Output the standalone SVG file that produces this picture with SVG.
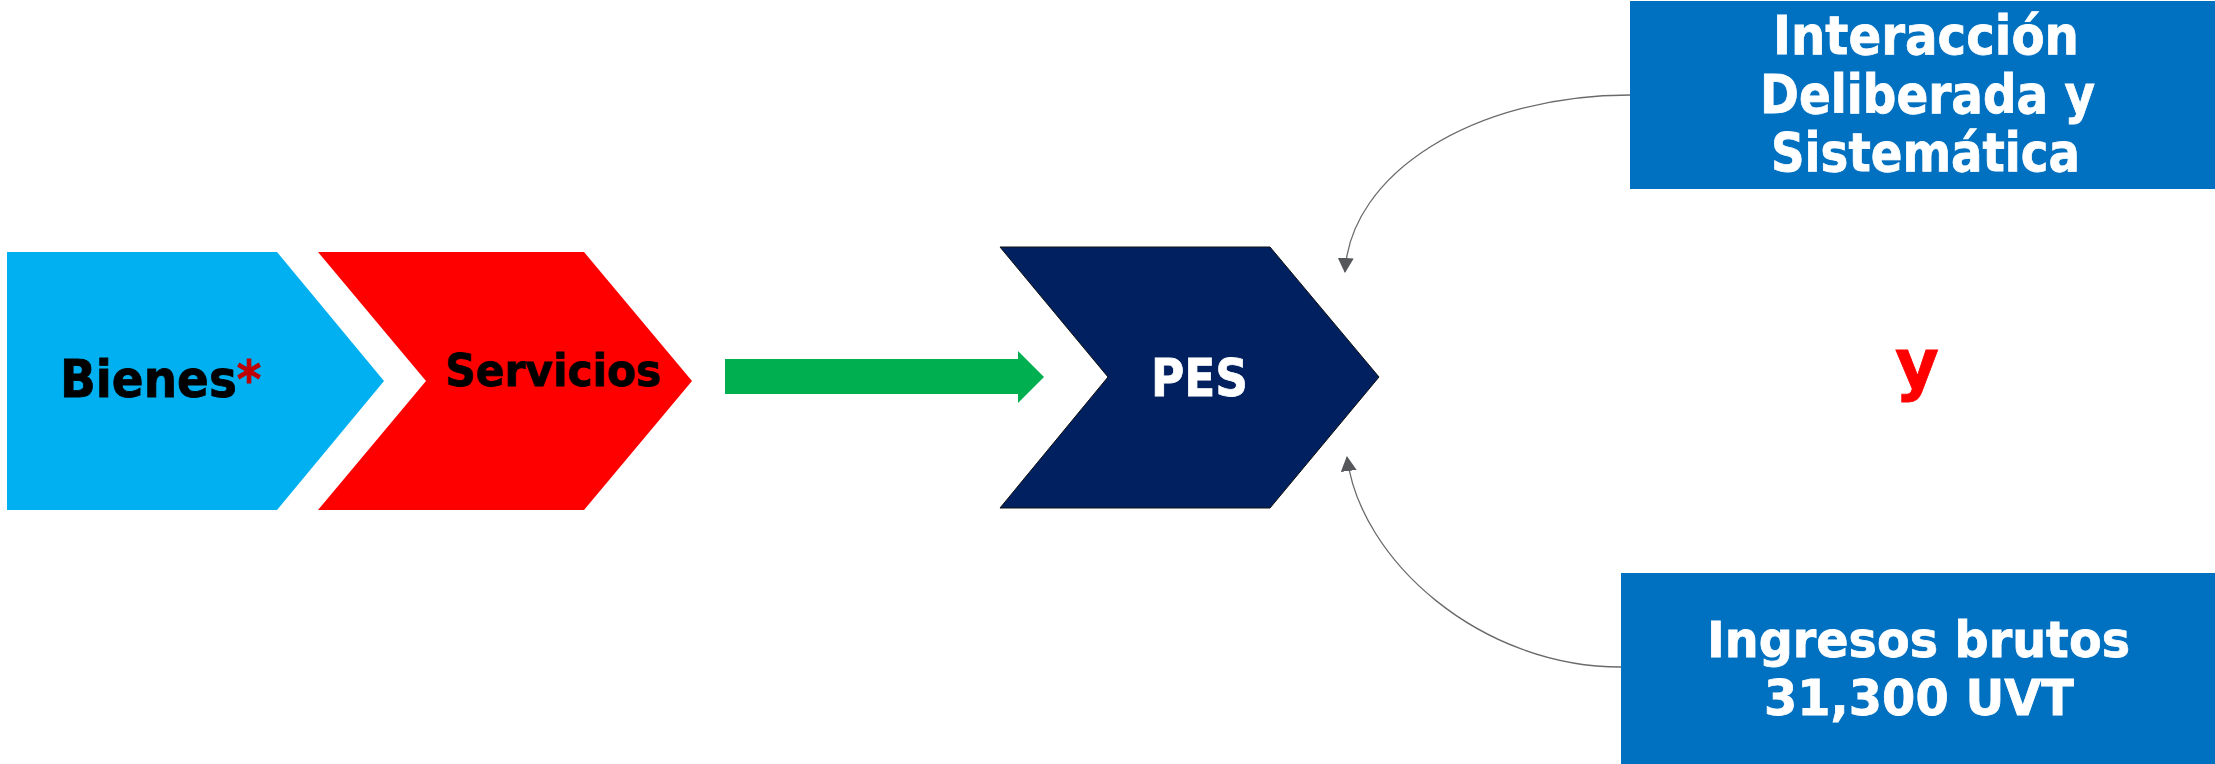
<svg xmlns="http://www.w3.org/2000/svg" width="2215" height="764" viewBox="0 0 2215 764">
<style>
text{font-family:"DejaVu Sans","Verdana",sans-serif;font-weight:bold}
.w{fill:#ffffff;stroke:#ffffff;stroke-width:0.8}
.k{fill:#000000;stroke:#000000;stroke-width:0.8}
.conn{fill:none;stroke:#6a6a6a;stroke-width:1.3}
.box{fill:#0070C0}
</style>
<defs>
<marker id="ah" markerWidth="16" markerHeight="16" refX="14" refY="8" orient="auto" markerUnits="userSpaceOnUse">
<path d="M0,0 L15,8 L0,16 z" fill="#55575b"/>
</marker>
</defs>
<rect width="2215" height="764" fill="#ffffff"/>
<g id="bienes">
<polygon points="7,252 277,252 384,381 277,510 7,510" fill="#00B0F0"/>
<text transform="matrix(0.92 0 0 1 60 397)" font-size="51" class="k">Bienes<tspan fill="#C00000" stroke="#C00000">*</tspan></text>
</g>
<g id="servicios">
<polygon points="318,252 584,252 692,381 584,510 318,510 426,381" fill="#FF0000"/>
<text x="445" y="386" font-size="44" class="k" textLength="216" lengthAdjust="spacingAndGlyphs">Servicios</text>
</g>
<g id="flecha">
<polygon points="725,359 1018,359 1018,351 1044,377 1018,403 1018,394 725,394" fill="#00B050"/>
</g>
<g id="pes">
<polygon points="1000,247 1270,247 1379,377 1270,508 1000,508 1108,377" fill="#002060" stroke="#111111" stroke-width="1"/>
<text x="1151" y="396" font-size="51" class="w" textLength="97" lengthAdjust="spacingAndGlyphs">PES</text>
</g>
<g id="interaccion">
<rect x="1630" y="1" width="585" height="188" class="box"/>
<text x="1773" y="54" font-size="53" class="w" textLength="306" lengthAdjust="spacingAndGlyphs">Interacción</text>
<text x="1760" y="113" font-size="53" class="w" textLength="335" lengthAdjust="spacingAndGlyphs">Deliberada y</text>
<text x="1771" y="171" font-size="53" class="w" textLength="309" lengthAdjust="spacingAndGlyphs">Sistemática</text>
</g>
<g id="ingresos">
<rect x="1621" y="573" width="594" height="191" class="box"/>
<text x="1707" y="657" font-size="50" class="w" textLength="423" lengthAdjust="spacingAndGlyphs">Ingresos brutos</text>
<text x="1764" y="715" font-size="50" class="w" textLength="310" lengthAdjust="spacingAndGlyphs">31,300 UVT</text>
</g>
<g id="conector-y">
<text x="1895" y="387" font-size="68" fill="#FF0000" stroke="#FF0000" stroke-width="0.8" textLength="44" lengthAdjust="spacingAndGlyphs">y</text>
</g>
<g id="connectors">
<path class="conn" d="M1630,95 C1473,95 1350,174 1345,272" marker-end="url(#ah)"/>
<path class="conn" d="M1621,667 C1480,667 1360,560 1347,457" marker-end="url(#ah)"/>
</g>
</svg>
